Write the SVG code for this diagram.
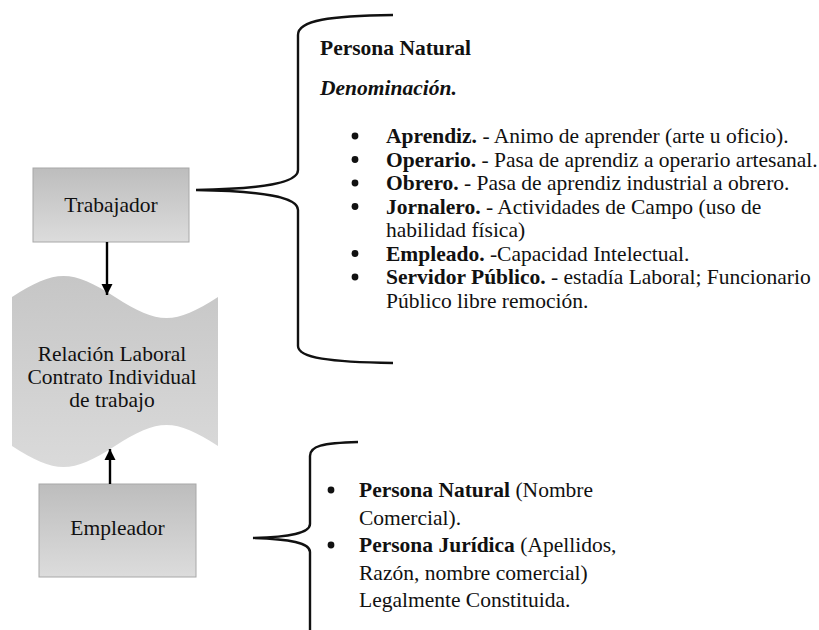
<svg xmlns="http://www.w3.org/2000/svg" width="819" height="630" viewBox="0 0 819 630">
<defs>
<linearGradient id="gBox" x1="0" y1="0" x2="0" y2="1">
<stop offset="0" stop-color="#bdbdbd"/>
<stop offset="1" stop-color="#dcdcdc"/>
</linearGradient>
<linearGradient id="gWave" x1="0" y1="0" x2="0" y2="1">
<stop offset="0" stop-color="#c6c6c6"/>
<stop offset="1" stop-color="#dadada"/>
</linearGradient>
<marker id="ah" viewBox="0 0 10 10" refX="10" refY="5" markerWidth="4.6" markerHeight="5.4" orient="auto" markerUnits="strokeWidth">
<path d="M0,0 L10,5 L0,10 Z" fill="#000"/>
</marker>
</defs>
<style>
text{font-family:"Liberation Serif","Times New Roman",serif;font-size:21.5px;fill:#111}
.b{font-weight:bold}
.bi{font-weight:bold;font-style:italic}
.c{text-anchor:middle}
.box{fill:url(#gBox);stroke:#a8a8a8;stroke-width:1}
.brace{fill:none;stroke:#111;stroke-width:2.4}
.conn{fill:none;stroke:#000;stroke-width:2.4}
.dot{fill:#111}
</style>
<rect width="819" height="630" fill="#fff"/>
<g id="trabajador">
<rect class="box" x="33" y="168" width="156" height="74"/>
<text class="c" x="111" y="212">Trabajador</text>
</g>
<g id="relacion">
<path fill="url(#gWave)" stroke="none" d="M12,297 C55.7,269 71.3,269 115,297 C158.7,325 174.3,325 218,297 L218,446 C174.3,418 158.7,418 115,446 C71.3,474 55.7,474 12,446 Z"/>
<text class="c" x="112" y="361">Relación Laboral</text>
<text class="c" x="112" y="384">Contrato Individual</text>
<text class="c" x="112" y="407">de trabajo</text>
</g>
<g id="empleador">
<rect class="box" x="39" y="484" width="157" height="93"/>
<text class="c" x="117.5" y="535">Empleador</text>
</g>
<g id="trabajador-detalle">
<text class="b" x="320" y="55">Persona Natural</text>
<text class="bi" x="320" y="95">Denominación.</text>
<circle class="dot" cx="355" cy="136" r="3.4"/>
<circle class="dot" cx="355" cy="159.5" r="3.4"/>
<circle class="dot" cx="355" cy="183" r="3.4"/>
<circle class="dot" cx="355" cy="206.5" r="3.4"/>
<circle class="dot" cx="355" cy="253.5" r="3.4"/>
<circle class="dot" cx="355" cy="277" r="3.4"/>
<text x="386" y="143"><tspan class="b">Aprendiz.</tspan> - Animo de aprender (arte u oficio).</text>
<text x="386" y="166.5"><tspan class="b">Operario.</tspan> - Pasa de aprendiz a operario artesanal.</text>
<text x="386" y="190"><tspan class="b">Obrero.</tspan> - Pasa de aprendiz industrial a obrero.</text>
<text x="386" y="213.5"><tspan class="b">Jornalero.</tspan> - Actividades de Campo (uso de</text>
<text x="386" y="237">habilidad física)</text>
<text x="386" y="260.5"><tspan class="b">Empleado.</tspan> -Capacidad Intelectual.</text>
<text x="386" y="284"><tspan class="b">Servidor Público.</tspan> - estadía Laboral; Funcionario</text>
<text x="386" y="307.5">Público libre remoción.</text>
</g>
<g id="empleador-detalle">
<circle class="dot" cx="331" cy="490" r="3.4"/>
<circle class="dot" cx="331" cy="545" r="3.4"/>
<text x="359" y="497"><tspan class="b">Persona Natural</tspan> (Nombre</text>
<text x="359" y="524.5">Comercial).</text>
<text x="359" y="552"><tspan class="b">Persona Jurídica</tspan> (Apellidos,</text>
<text x="359" y="579.5">Razón, nombre comercial)</text>
<text x="359" y="607">Legalmente Constituida.</text>
</g>
<g id="connectors">
<line class="conn" x1="107" y1="242" x2="107" y2="295" marker-end="url(#ah)"/>
<line class="conn" x1="110" y1="484" x2="110" y2="449" marker-end="url(#ah)"/>
<path class="brace" d="M393,15 C330,16 298,20 298,35 L298,170 C298,183 262,189 196,190 C262,191 298,197 298,210 L298,346 C298,358 330,362 393,363"/>
<path class="brace" d="M358,442 C322,443 310,446 310,456 L310,524 C310,533 290,537 253,538 C290,539 310,543 310,552 L310,632"/>
</g>
</svg>
